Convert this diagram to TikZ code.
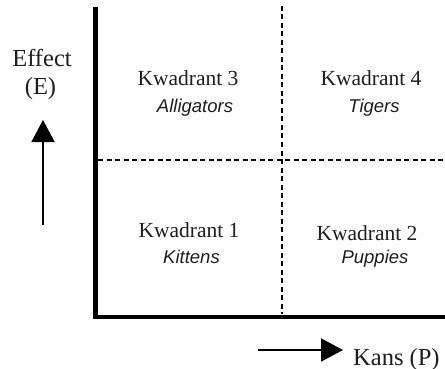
\documentclass[tikz,border=0pt]{standalone}
\usepackage{fontspec}
\setmainfont{Liberation Serif}
\newfontfamily\labelsans{Liberation Sans}
\usetikzlibrary{arrows.meta}
\definecolor{ink}{HTML}{1E1E1E}
\begin{document}
\begin{tikzpicture}[x=1pt,y=-1pt,
  axis/.style={line width=4.5pt},
  divider/.style={line width=1.8pt, dash pattern=on 5pt off 3.5pt},
  pointer/.style={line width=1.6pt, -{Triangle[length=22pt,width=23pt]}},
  quadname/.style={anchor=base, text=ink, font=\fontsize{21.5}{24}\selectfont},
  animal/.style={anchor=base, text=ink, font=\labelsans\itshape\fontsize{18.5}{21}\selectfont},
  axislabel/.style={anchor=base, text=ink, font=\fontsize{24.5}{27}\selectfont}]
\useasboundingbox (0,0) rectangle (445,369);
% axes
\coordinate (top) at (95.5,7);
\coordinate (origin) at (95.5,317);
\coordinate (right) at (447,317);
\draw[axis] (top) -- (origin) -- (right);
% quadrant dividers
\coordinate (vd1) at (282,6);
\coordinate (vd2) at (282,314);
\coordinate (hd1) at (98,160);
\coordinate (hd2) at (447,160);
\draw[divider] (vd1) -- (vd2);
\draw[divider] (hd1) -- (hd2);
% quadrant labels (positions are baselines)
\node[quadname] (q3) at (188,85) {Kwadrant 3};
\node[animal] (a3) at (195,113) {Alligators};
\node[quadname] (q4) at (371,85) {Kwadrant 4};
\node[animal] (a4) at (374,113) {Tigers};
\node[quadname] (q1) at (189,237) {Kwadrant 1};
\node[animal] (a1) at (191.5,263) {Kittens};
\node[quadname] (q2) at (367,240) {Kwadrant 2};
\node[animal] (a2) at (375,263) {Puppies};
% axis labels with direction arrows
\node[axislabel] (eff) at (42,67) {Effect};
\node[axislabel] (effE) at (40.5,95) {(E)};
\coordinate (upstart) at (43,225);
\coordinate (upend) at (43,120);
\draw[pointer] (upstart) -- (upend);
\coordinate (rstart) at (258,350);
\coordinate (rend) at (343,350);
\draw[pointer] (rstart) -- (rend);
\node[axislabel, anchor=base west, inner xsep=0pt] (kans) at (353,365) {Kans (P)};
\end{tikzpicture}
\end{document}
